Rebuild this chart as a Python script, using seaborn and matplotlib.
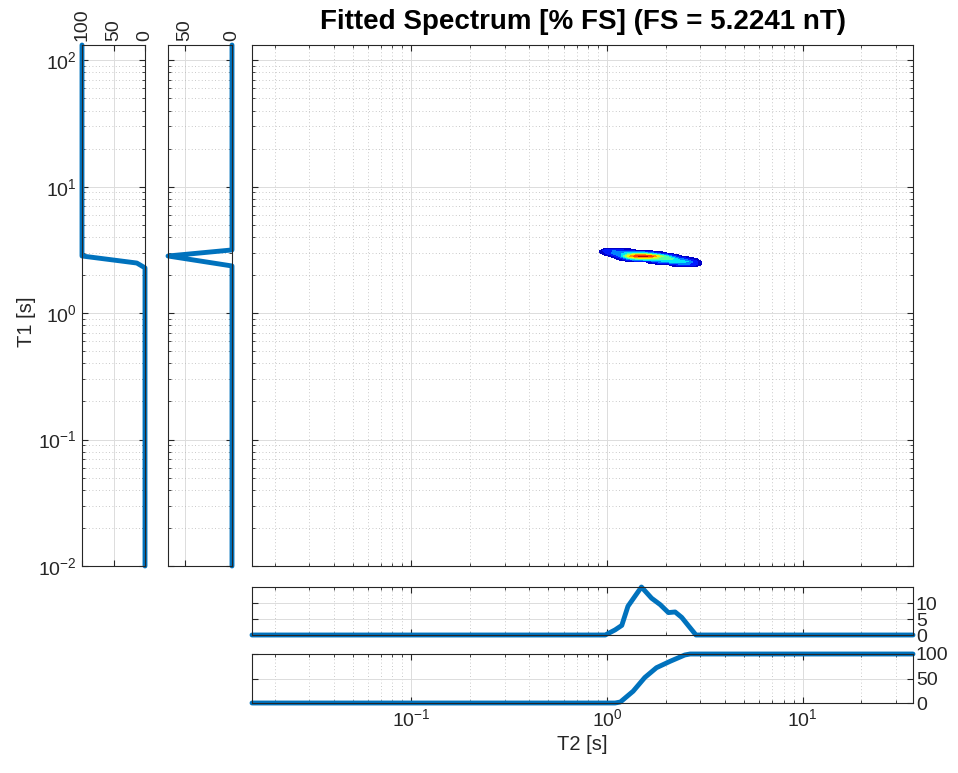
import numpy as np
import pandas as pd
import matplotlib
matplotlib.use("Agg")
import matplotlib.pyplot as plt
import seaborn as sns
from matplotlib.ticker import LogLocator, NullFormatter, FixedLocator

sns.set_theme(style="white")
plt.rcParams['font.family'] = ['Liberation Sans', 'DejaVu Sans']
plt.rcParams['mathtext.fontset'] = 'custom'
plt.rcParams['mathtext.rm'] = 'Liberation Sans'
plt.rcParams['mathtext.it'] = 'Liberation Sans:italic'
plt.rcParams['mathtext.bf'] = 'Liberation Sans:bold'

TITLE = "Fitted Spectrum [% FS] (FS = 5.2241 nT)"
XLABEL = "T2 [s]"
YLABEL = "T1 [s]"
T2_LIM = (0.0153, 36.7)
T1_LIM = (0.01, 132)

# ---- 2D fitted spectrum ----
t2_grid = [0.9, 0.98, 1.07, 1.17, 1.28, 1.4, 1.53, 1.67, 1.83, 2.0, 2.18, 2.38, 2.6, 2.84, 3.1]
t1_grid = [2.3, 2.42, 2.55, 2.68, 2.82, 2.97, 3.12, 3.3]
spectrum = [
    [0, 0, 0, 0, 0, 0, 0, 0, 0, 0, 0, 0, 0, 0, 0],
    [0, 0, 0, 0, 0, 0, 0, 0, 0, 0, 0.8, 1.8, 2.0, 1.2, 0],
    [0, 0, 0, 0, 0, 0, 0, 1.0, 2.2, 3.0, 3.6, 3.6, 3.0, 1.4, 0],
    [0, 0, 0, 0.6, 2.5, 4.2, 4.8, 4.6, 4.2, 4.4, 4.0, 2.4, 1.2, 0.4, 0],
    [0, 0, 0.6, 2.4, 6.5, 8.8, 9.3, 8.8, 6.5, 4.2, 1.8, 0.4, 0, 0, 0],
    [0, 1.0, 2.2, 2.8, 4.0, 4.5, 4.3, 3.0, 1.4, 0.4, 0, 0, 0, 0, 0],
    [0, 1.6, 2.0, 1.6, 0.9, 0.4, 0, 0, 0, 0, 0, 0, 0, 0, 0],
    [0, 0, 0, 0, 0, 0, 0, 0, 0, 0, 0, 0, 0, 0, 0],
]
levels = [0.3, 1, 2, 3, 4, 5, 6, 7, 8, 9, 10]

# ---- T1 marginal and cumulative ----
t1_marg_T1 = [0.01, 2.36, 2.83, 3.16, 132]
t1_marg_val = [0, 0, 67.7, 0, 0]
t1_cum_T1 = [0.01, 2.28, 2.49, 2.83, 132]
t1_cum_val = [0, 0, 13, 100, 100]

# ---- T2 marginal and cumulative ----
t2_marg_T2 = [0.0153, 0.98, 1.1, 1.19, 1.28, 1.5, 1.69, 1.87, 2.06, 2.23, 2.41, 2.6, 2.85, 36.7]
t2_marg_val = [0, 0, 1.6, 3, 9, 15, 11.5, 9.5, 7, 7.2, 5.5, 3, 0, 0]
t2_cum_T2 = [0.0153, 1.1, 1.17, 1.36, 1.56, 1.79, 2.1, 2.5, 2.66, 36.7]
t2_cum_val = [0, 0, 2, 24, 52, 72, 85, 98, 100, 100]

BLUE = "#0072BD"
AXC = "#262626"
LW = 3.5
FS = 14

W, H = 958, 773
fig = plt.figure(figsize=(W / 100, H / 100), dpi=100)

def rect(x0, y0, x1, y1):
    return [x0 / W, 1 - y1 / H, (x1 - x0) / W, (y1 - y0) / H]

ax_main = fig.add_axes(rect(252, 45, 913, 566))
ax_c1 = fig.add_axes(rect(82, 45, 145, 566))
ax_m1 = fig.add_axes(rect(168, 45, 232, 566))
ax_m2 = fig.add_axes(rect(252, 587, 913, 635))
ax_c2 = fig.add_axes(rect(252, 654, 913, 703))

def style(ax):
    for s in ax.spines.values():
        s.set_color(AXC)
        s.set_linewidth(0.8)
        s.set_visible(True)
    ax.tick_params(which='both', direction='in', colors=AXC, labelsize=FS,
                   top=True, right=True, bottom=True, left=True)
    ax.tick_params(which='major', length=4, width=0.8)
    ax.tick_params(which='minor', length=2, width=0.6)
    ax.set_facecolor('white')
    ax.set_axisbelow(True)

def logaxis(axis):
    axis.set_major_locator(LogLocator(base=10, numticks=20))
    axis.set_minor_locator(LogLocator(base=10, subs=np.arange(2, 10), numticks=200))
    axis.set_minor_formatter(NullFormatter())

MAJ = dict(color='#dcdcdc', lw=0.7, ls='-')
MIN = dict(color='#b8b8b8', lw=0.6, ls=(0, (1, 3)))

# main
style(ax_main)
ax_main.set_xscale('log'); ax_main.set_yscale('log')
ax_main.contourf(t2_grid, t1_grid, np.array(spectrum), levels=levels, cmap='jet', vmin=0, vmax=10)
ax_main.set_xlim(*T2_LIM); ax_main.set_ylim(*T1_LIM)
logaxis(ax_main.xaxis); logaxis(ax_main.yaxis)
ax_main.grid(which='major', **MAJ)
ax_main.grid(which='minor', **MIN)
ax_main.tick_params(labelbottom=False, labelleft=False)

# left panels
for ax, xs, ys, xlim, xt in [
    (ax_c1, t1_cum_val, t1_cum_T1, (100, 0), [0, 50, 100]),
    (ax_m1, t1_marg_val, t1_marg_T1, (67.7, 0), [0, 50]),
]:
    style(ax)
    df = pd.DataFrame({'v': xs, 'T1': ys})
    sns.lineplot(data=df, x='v', y='T1', sort=False, estimator=None, ax=ax,
                 color=BLUE, lw=LW, clip_on=False)
    ax.set_yscale('log')
    ax.set_ylim(*T1_LIM)
    ax.set_xlim(*xlim)
    logaxis(ax.yaxis)
    ax.xaxis.set_major_locator(FixedLocator(xt))
    ax.xaxis.tick_top()
    ax.tick_params(which='both', top=True, bottom=True, labeltop=True, labelbottom=False)
    ax.tick_params(axis='x', labelrotation=90, pad=3)
    ax.grid(axis='x', which='major', **MAJ)
    ax.grid(axis='y', which='major', **MAJ)
    ax.grid(axis='y', which='minor', **MIN)
    ax.set_xlabel(''); ax.set_ylabel('')
ax_m1.tick_params(labelleft=False)

# bottom panels
for ax, xs, ys, ylim, yt in [
    (ax_m2, t2_marg_T2, t2_marg_val, (0, 15), [0, 5, 10]),
    (ax_c2, t2_cum_T2, t2_cum_val, (0, 100), [0, 50, 100]),
]:
    style(ax)
    df = pd.DataFrame({'T2': xs, 'v': ys})
    sns.lineplot(data=df, x='T2', y='v', sort=False, estimator=None, ax=ax,
                 color=BLUE, lw=LW, clip_on=False)
    ax.set_xscale('log')
    ax.set_xlim(*T2_LIM)
    ax.set_ylim(*ylim)
    logaxis(ax.xaxis)
    ax.yaxis.set_major_locator(FixedLocator(yt))
    ax.yaxis.tick_right()
    ax.tick_params(which='both', left=True, right=True, labelleft=False, labelright=True)
    ax.tick_params(axis='y', pad=2)
    ax.grid(axis='x', which='major', **MAJ)
    ax.grid(axis='x', which='minor', **MIN)
    ax.grid(axis='y', which='major', **MAJ)
    ax.set_xlabel(''); ax.set_ylabel('')
ax_m2.tick_params(labelbottom=False)

fig.text(583 / W, 1 - 22 / H, TITLE, ha='center', va='center', weight='bold', size=20, color='black')
fig.text(582 / W, 1 - 745 / H, XLABEL, ha='center', va='center', size=14.5, color=AXC)
fig.text(26 / W, 1 - 322 / H, YLABEL, ha='center', va='center', rotation=90, size=14.5, color=AXC)

fig.savefig("out.png", dpi=100)
